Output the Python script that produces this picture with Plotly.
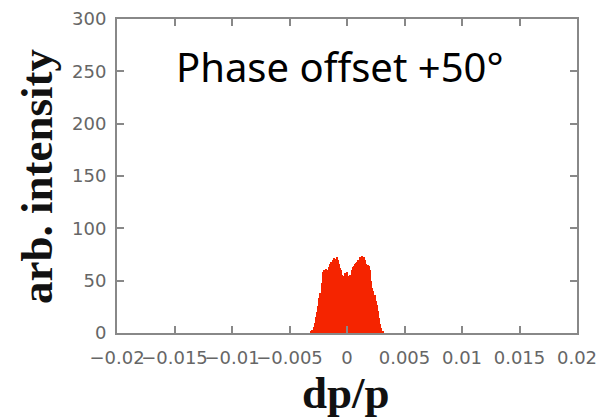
import plotly.graph_objects as go

# histogram of dp/p, bin width 1e-4, bin centres in units of 1e-4
bin_index = list(range(-31, 32))
counts = [1, 3, 6, 10, 15, 20, 26, 33, 38, 48,
          58, 60, 59, 61, 60, 63, 66, 68, 67, 70,
          72, 71, 73, 70, 66, 62, 60, 55, 54, 57,
          56, 58, 54, 52, 55, 60, 63, 64, 66, 67,
          68, 70, 73, 72, 74, 73, 73, 70, 66, 65,
          64, 60, 50, 43, 40, 36, 31, 27, 21, 14,
          9, 5, 2]
bin_width = 1e-4
x_centers = [i * bin_width for i in bin_index]

x_ticks = [-0.02, -0.015, -0.01, -0.005, 0, 0.005, 0.01, 0.015, 0.02]
x_tick_labels = ["\u22120.02", "\u22120.015", "\u22120.01", "\u22120.005", "0",
                 "0.005", "0.01", "0.015", "0.02"]
y_ticks = [0, 50, 100, 150, 200, 250, 300]

fig = go.Figure()
fig.add_trace(go.Bar(x=x_centers, y=counts, width=bin_width,
                     marker=dict(color="#f52400", line=dict(width=0))))

axis_common = dict(showline=True, linecolor="#888888", linewidth=2, mirror="ticks",
                   ticks="inside", ticklen=7, tickwidth=2, tickcolor="#888888",
                   showgrid=False, zeroline=False, automargin=False,
                   ticklabeloverflow="allow",
                   tickfont=dict(family="DejaVu Sans", size=18, color="#666666"))

# the page body has an 8 px default margin, so the figure is drawn 8 px smaller
fig.update_layout(
    width=596, height=411,
    margin=dict(l=109, r=27, t=11, b=86),
    paper_bgcolor="white", plot_bgcolor="white",
    showlegend=False, bargap=0,
    xaxis=dict(range=[-0.02, 0.02], tickvals=x_ticks, ticktext=x_tick_labels,
               tickangle=0, ticklabelstandoff=7, **axis_common),
    yaxis=dict(range=[0, 300], tickvals=y_ticks, ticklabelstandoff=5, **axis_common),
    annotations=[
        dict(text="Phase offset +50°", xref="paper", yref="paper",
             x=0.485, y=0.850, xanchor="center", yanchor="middle",
             showarrow=False,
             font=dict(family="Noto Sans", size=40, color="black")),
        dict(text="<b>arb. intensity</b>", xref="paper", yref="paper",
             x=-0.174, y=0.5, xanchor="center", yanchor="middle", textangle=-90,
             showarrow=False,
             font=dict(family="Liberation Serif", size=45, color="#111111")),
        dict(text="<b>dp/p</b>", xref="paper", yref="paper",
             x=0.498, y=-0.19, xanchor="center", yanchor="middle",
             showarrow=False,
             font=dict(family="Liberation Serif", size=45, color="#111111")),
    ],
)

fig.write_html("out.html")
